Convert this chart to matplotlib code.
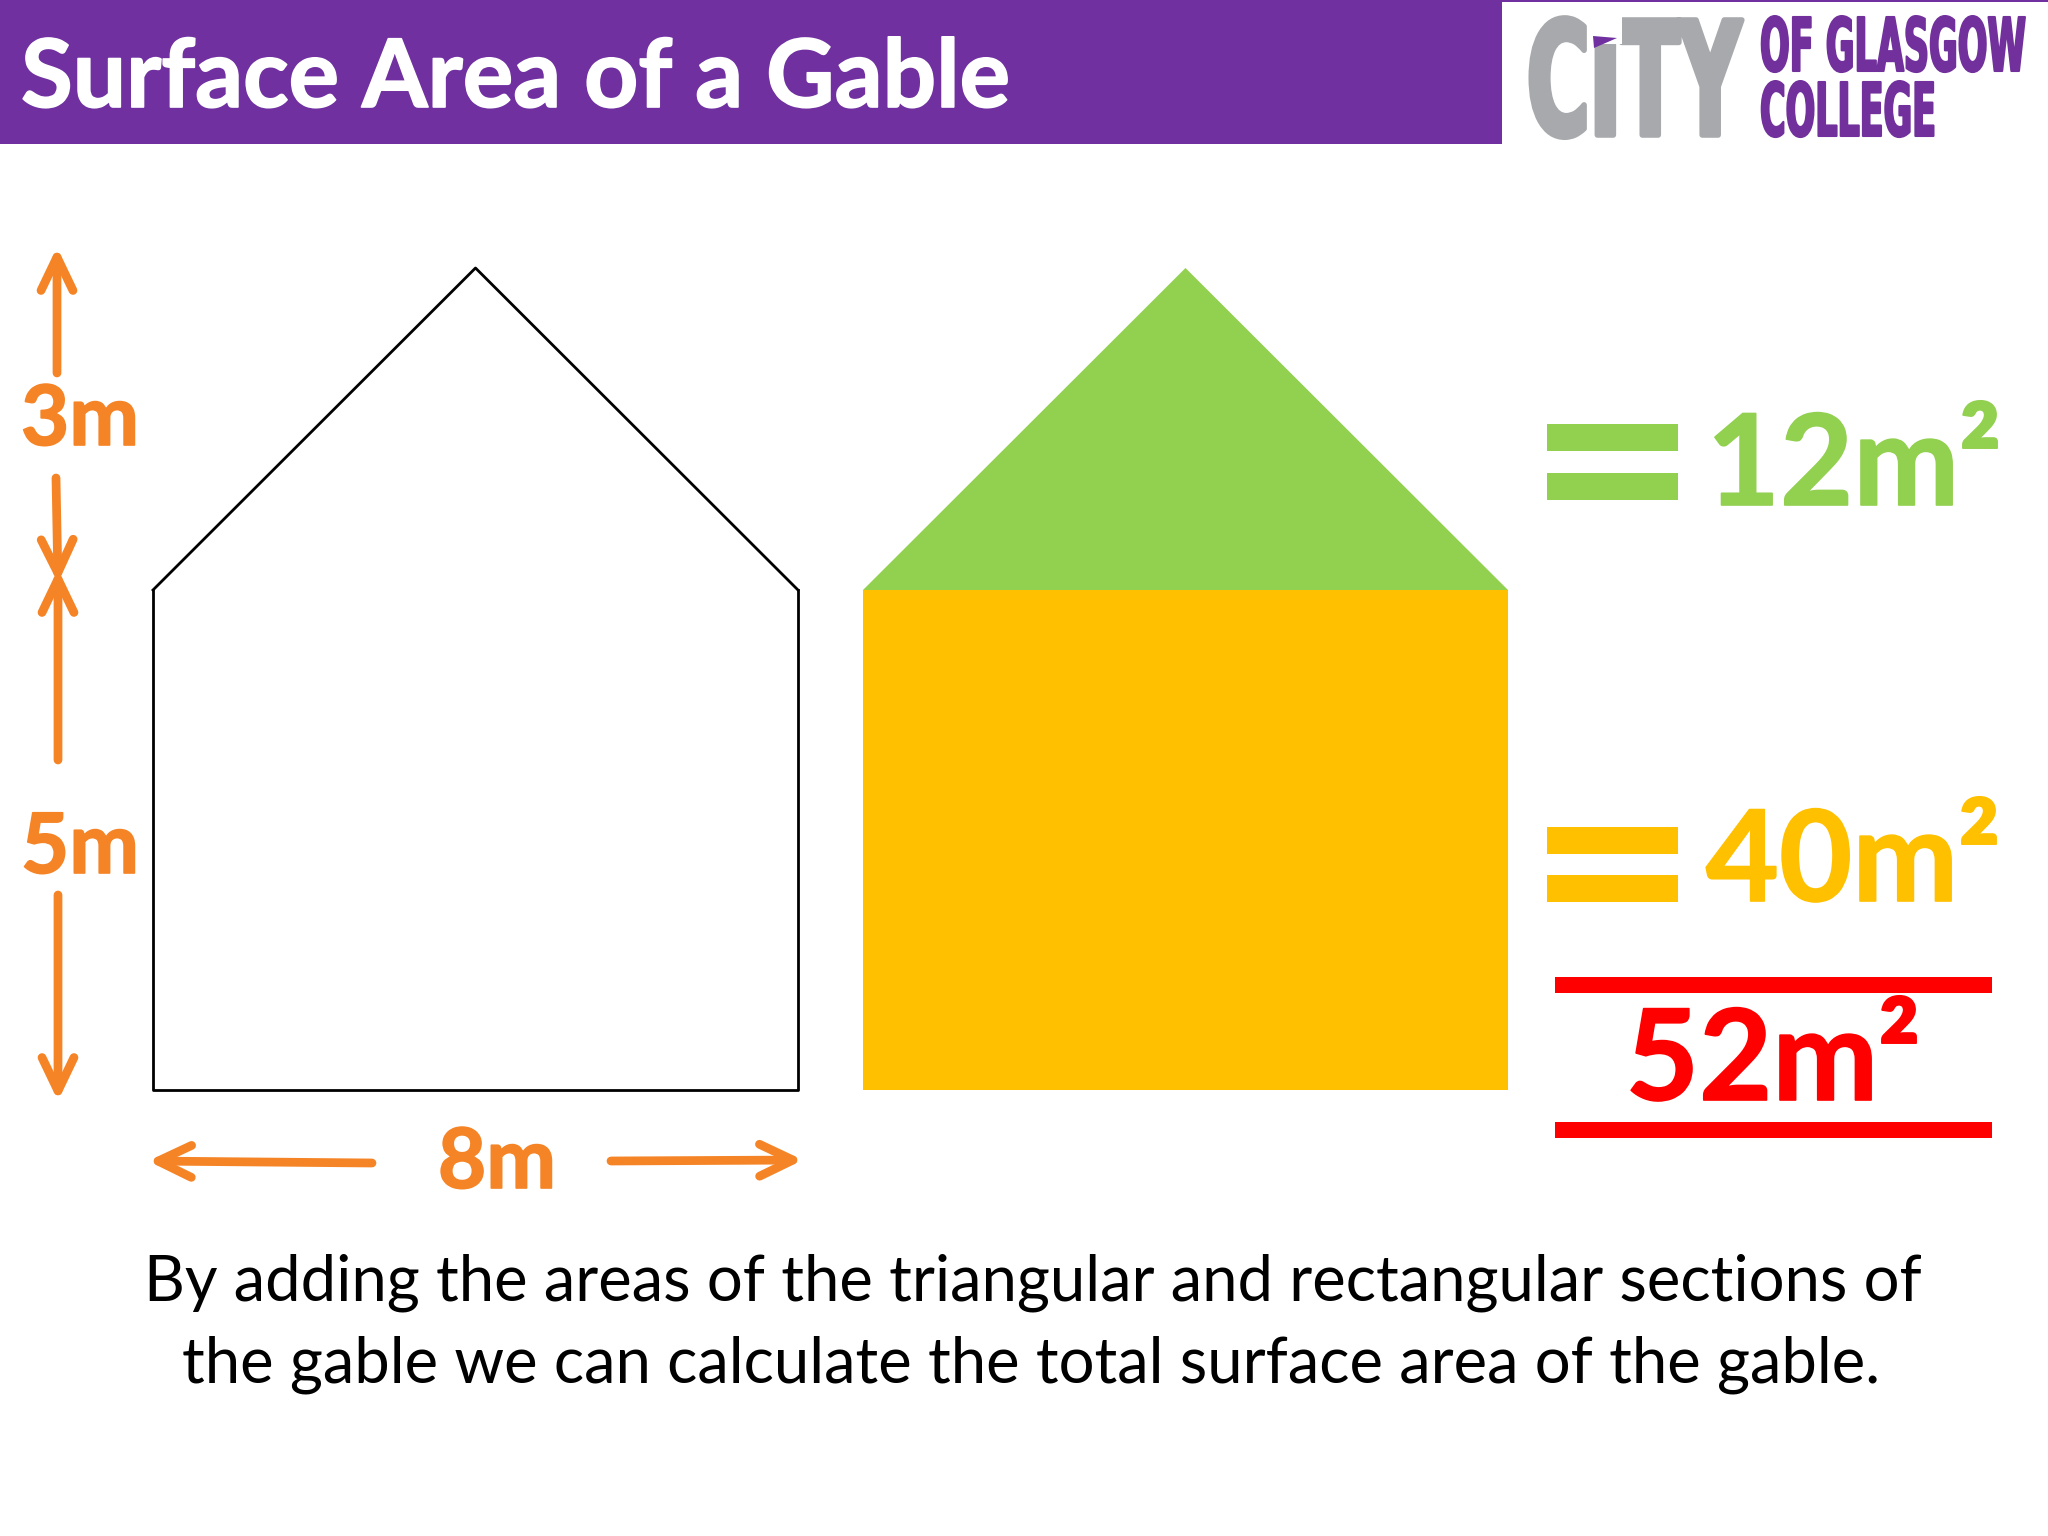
import matplotlib
matplotlib.use('Agg')
import matplotlib.pyplot as plt
import matplotlib.patheffects as pe
from matplotlib.patches import Rectangle, Polygon
from matplotlib.transforms import Affine2D

# gable dimensions in metres
gable_width = 8
wall_height = 5
roof_height = 3
# areas in square metres
roof_area = 12
wall_area = 40
total_area = 52

title = 'Surface Area of a Gable'
caption = ['By adding the areas of the triangular and rectangular sections of',
           'the gable we can calculate the total surface area of the gable.']

PURPLE = '#7030A0'
ORANGE = '#F58426'
GREEN = '#92D050'
YELLOW = '#FFC000'
RED = '#FF0000'
W, H = 2048, 1536
FONT = 'Lato'


class Stretch(pe.AbstractPathEffect):
    # makes text taller around its baseline, no condensed font is installed
    def __init__(self, sy, y0, lw):
        super().__init__()
        self.sy = sy
        self.y0 = y0
        self.lw = lw

    def draw_path(self, renderer, gc, tpath, affine, rgbFace=None):
        t = affine + Affine2D().translate(0, -self.y0).scale(1, self.sy).translate(0, self.y0)
        gc0 = renderer.new_gc()
        gc0.copy_properties(gc)
        gc0.set_linewidth(self.lw)
        gc0.set_foreground(rgbFace)
        renderer.draw_path(gc0, tpath, t, rgbFace)
        gc0.restore()


fig = plt.figure(figsize=(W / 100, H / 100), dpi=100, facecolor='white')
ax = fig.add_axes([0, 0, 1, 1])
ax.set_xlim(0, W)
ax.set_ylim(H, 0)
ax.axis('off')


def box_axes(x0, x1, y0, y1, xmax, ymax):
    a = fig.add_axes([x0 / W, 1 - y1 / H, (x1 - x0) / W, (y1 - y0) / H])
    a.set_xlim(0, xmax)
    a.set_ylim(0, ymax)
    a.axis('off')
    return a


def arrow(x0, y0, x1, y1):
    ax.annotate('', xy=(x1, y1), xytext=(x0, y0),
                arrowprops=dict(arrowstyle='->,head_length=2.4,head_width=1.15', mutation_scale=10,
                                color=ORANGE, lw=6.3, shrinkA=0, shrinkB=0))


def logo_text(s, x0, x1, base, top, color, lw):
    t = ax.text(x0, base, s, fontsize=100, family='Liberation Sans Narrow', weight='bold',
                color=color, ha='left', va='baseline')
    ext = t.get_window_extent(fig.canvas.get_renderer())
    size = 100 * (x1 - x0) / ext.width
    t.set_fontsize(size)
    cap = 0.729 * size * 100 / 72
    t.set_path_effects([Stretch((base - top) / cap, H - base, lw)])


def bold_label(x, y, s, size, color):
    ax.text(x, y, s, fontsize=size, family=FONT, weight='bold', color=color, ha='center', va='baseline',
            path_effects=[pe.withStroke(linewidth=1.2, foreground=color)])


# header band and logo
ax.add_patch(Rectangle((0, 0), 1502, 144, fc=PURPLE, ec='none'))
ax.add_patch(Rectangle((1502, 0), 546, 2, fc=PURPLE, ec='none'))
ax.text(21, 107, title, fontsize=68, family=FONT, weight='bold', color='white', va='baseline',
        path_effects=[pe.withStroke(linewidth=1.2, foreground='white')])
logo_text('CITY', 1527, 1741, 135, 20, '#A7A9AC', 4)
logo_text('OF GLASGOW', 1760, 2026, 71, 17, '#71309B', 1.5)
logo_text('COLLEGE', 1760, 1936, 136, 82, '#71309B', 1.5)
# the I of CITY has a cut top with a purple wedge
ax.add_patch(Rectangle((1592, 8), 30, 36, fc='white', ec='none', zorder=4))
ax.add_patch(Polygon([(1593, 36), (1617, 38), (1594, 48)], fc=PURPLE, ec='none', zorder=5))

# outline gable
wall = box_axes(153, 798, 590, 1090, gable_width, wall_height)
roof = box_axes(153, 798, 268, 590, gable_width, roof_height)
wall.plot([0, 0, gable_width, gable_width], [wall_height, 0, 0, wall_height], color='black', lw=2, clip_on=False)
roof.plot([0, gable_width / 2, gable_width], [0, roof_height, 0], color='black', lw=2, clip_on=False)

# coloured gable
wall2 = box_axes(863, 1508, 590, 1090, gable_width, wall_height)
roof2 = box_axes(863, 1508, 268, 590, gable_width, roof_height)
wall2.bar(gable_width / 2, wall_height, width=gable_width, color=YELLOW)
roof2.fill([0, gable_width / 2, gable_width], [0, roof_height, 0], color=GREEN, lw=0)

# dimension arrows
arrow(57, 373, 57, 247)
arrow(56, 478, 58, 583)
arrow(58, 760, 58, 569)
arrow(58, 895, 58, 1101)
arrow(372, 1163, 148, 1161)
arrow(611, 1161, 803, 1160)
bold_label(80, 445, f'{roof_height}m', 60, ORANGE)
bold_label(80, 873, f'{wall_height}m', 60, ORANGE)
bold_label(497, 1188, f'{gable_width}m', 60, ORANGE)

# equals signs and results
for y in (424, 473, 827, 875):
    ax.add_patch(Rectangle((1547, y), 131, 27, fc=GREEN if y < 600 else YELLOW, ec='none'))
for y in (977, 1122):
    ax.add_patch(Rectangle((1555, y), 437, 16, fc=RED, ec='none'))
bold_label(1854, 505, f'{roof_area}m\u00b2', 91, GREEN)
bold_label(1853, 901, f'{wall_area}m\u00b2', 91, YELLOW)
bold_label(1773, 1100, f'{total_area}m\u00b2', 91, RED)

# caption
ax.text(1033, 1300, caption[0], fontsize=45.6, family=FONT, color='black', ha='center', va='baseline')
ax.text(1031, 1382, caption[1], fontsize=45.6, family=FONT, color='black', ha='center', va='baseline')

fig.savefig('out.png', dpi=100)
